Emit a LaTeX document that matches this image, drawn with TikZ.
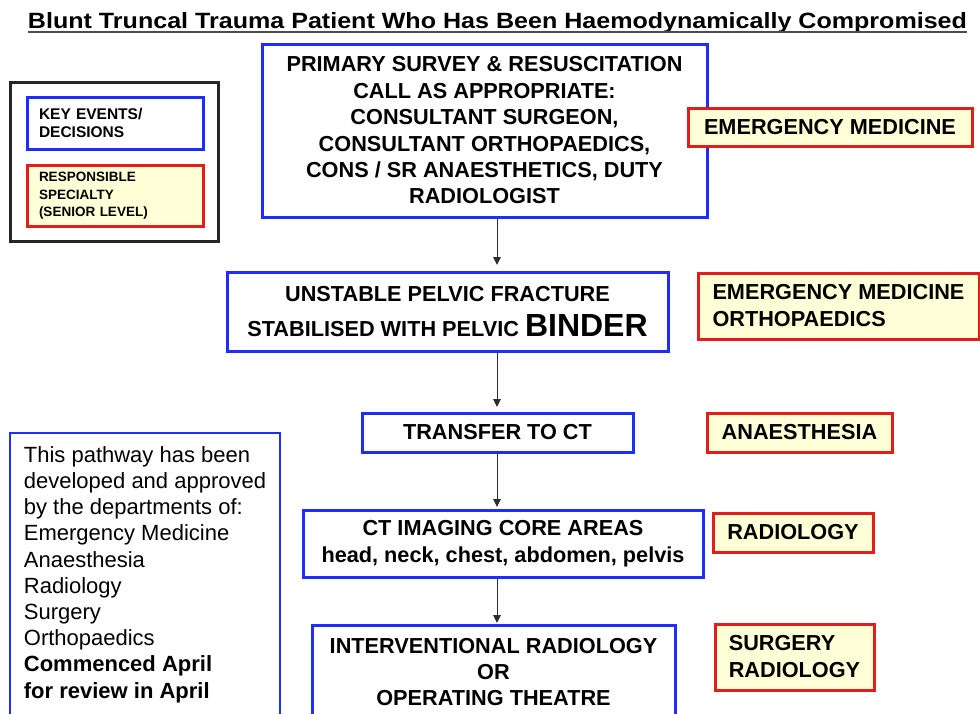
\documentclass[tikz,border=0pt]{standalone}
\usepackage{fontspec}
\usepackage{graphicx}
\setmainfont{Liberation Sans}
\usetikzlibrary{arrows.meta}
\definecolor{kblue}{RGB}{30,45,250}
\definecolor{kred}{RGB}{225,30,25}
\definecolor{kyel}{RGB}{255,255,215}
\definecolor{karrow}{RGB}{45,45,45}
\begin{document}
\begin{tikzpicture}[x=1pt,y=-1pt,
  every node/.style={inner sep=0pt},
  evbox/.style={draw=kblue, line width=3pt, fill=white, align=center,
    font=\bfseries\fontsize{21.7}{26.4}\selectfont},
  spbox/.style={draw=kred, line width=3pt, fill=kyel, align=left,
    font=\bfseries\fontsize{21.7}{27}\selectfont},
  flow/.style={draw=karrow, line width=1pt, -{Triangle[length=8pt,width=7.5pt]}}
]
\useasboundingbox (0,0) rectangle (980,713);
\clip (0,0) rectangle (980,713);
\fill[white] (0,0) rectangle (980,713);

% title
\node[anchor=base, font=\bfseries\fontsize{22}{26}\selectfont] (title) at (497.5,28.3)
  {\resizebox{939pt}{16pt}{Blunt Truncal Trauma Patient Who Has Been Haemodynamically Compromised}};
\draw[line width=2pt, black!70] ([yshift=-3.4pt]title.base west) -- ([yshift=-3.4pt]title.base east);

% legend
\node[draw=black!85, line width=3pt, minimum width=208pt, minimum height=159pt] (legend) at (114,161.5) {};
\node[evbox, align=left, font=\bfseries\fontsize{15.5}{18}\selectfont,
  text width=152pt, inner xsep=12pt, minimum height=52pt] (keyev) at (115,123) {KEY EVENTS/\\DECISIONS};
\node[spbox, font=\bfseries\fontsize{13.5}{17.5}\selectfont,
  text width=152pt, inner xsep=12pt, minimum height=61pt] (keysp) at (115,196) {RESPONSIBLE\\SPECIALTY\\(SENIOR LEVEL)};

% main flow
\coordinate (spine) at (497,0);
\node[evbox, minimum width=445pt, minimum height=173pt] (prim) at (484.5,130.5)
  {PRIMARY SURVEY \& RESUSCITATION\\CALL AS APPROPRIATE:\\CONSULTANT SURGEON,\\CONSULTANT ORTHOPAEDICS,\\CONS / SR ANAESTHETICS, DUTY\\RADIOLOGIST};
\node[evbox, minimum width=441pt, minimum height=79pt] (unst) at (447.5,311.5)
  {UNSTABLE PELVIC FRACTURE\\[9pt]STABILISED WITH PELVIC {\fontsize{32}{32}\selectfont BINDER}};
\node[evbox, minimum width=271pt, minimum height=39pt] (xfer) at (497.5,432.5) {TRANSFER TO CT};
\node[evbox, minimum width=400pt, minimum height=67pt] (ctimg) at (503,543.5)
  {CT IMAGING CORE AREAS\\head, neck, chest, abdomen, pelvis};
\node[evbox, minimum width=363pt, minimum height=94pt] (ir) at (493.5,672)
  {INTERVENTIONAL RADIOLOGY\\OR\\OPERATING THEATRE};

\draw[flow, shorten >=5.5pt] (prim.south -| spine) -- (unst.north -| spine);
\draw[flow, shorten >=4.5pt] (unst.south -| spine) -- (xfer.north -| spine);
\draw[flow, shorten >=1.5pt] (xfer.south -| spine) -- (ctimg.north -| spine);
\draw[flow, shorten >=0.5pt] (ctimg.south -| spine) -- (ir.north -| spine);

% specialties
\node[spbox, minimum width=284pt, minimum height=38pt] (sp1) at (830,127) {EMERGENCY MEDICINE};
\node[spbox, minimum width=281pt, minimum height=66pt] (sp2) at (838.5,306) {EMERGENCY MEDICINE\\ORTHOPAEDICS};
\node[spbox, minimum width=185pt, minimum height=39pt] (sp3) at (799.5,432.5) {ANAESTHESIA};
\node[spbox, minimum width=160pt, minimum height=39pt] (sp4) at (793,532.5) {RADIOLOGY};
\node[spbox, minimum width=159pt, minimum height=66pt] (sp5) at (794.5,657) {SURGERY\\RADIOLOGY};

% note
\node[draw=kblue, line width=2.5pt, align=left, font=\fontsize{22}{26.2}\selectfont,
  minimum width=270pt, minimum height=283pt] (note) at (145,574.5)
  {This pathway has been\\developed and approved\\by the departments of:\\Emergency Medicine\\Anaesthesia\\Radiology\\Surgery\\Orthopaedics\\\textbf{Commenced April}\\\textbf{for review in April}};
\end{tikzpicture}
\end{document}
